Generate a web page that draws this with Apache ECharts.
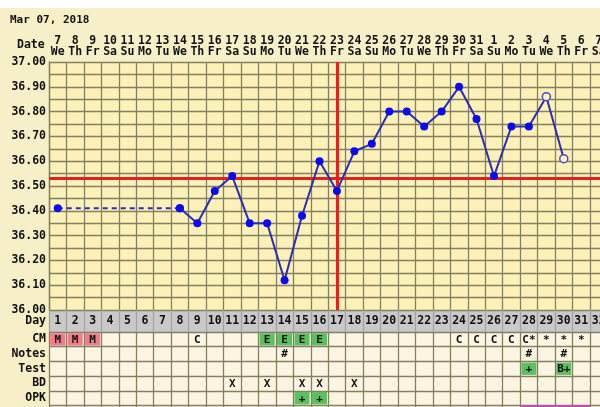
<!DOCTYPE html>
<html><head><meta charset="utf-8">
<script src="https://cdn.jsdelivr.net/npm/echarts@6/dist/echarts.min.js"></script>
<style>html,body{margin:0;padding:0;background:#f7efc8;overflow:hidden;width:600px;height:407px}#top{height:8px;background:#ffffff}#c{position:absolute;left:0;top:0;width:640px;height:440px}</style>
</head><body><div id="top"></div><div id="c"></div>
<script>
const cycleDays = Array.from({length:32}, (_, i) => String(i + 1));
const dates = ['7','8','9','10','11','12','13','14','15','16','17','18','19','20','21','22','23','24','25','26','27','28','29','30','31','1','2','3','4','5','6','7'];
const weekdays = ['We','Th','Fr','Sa','Su','Mo','Tu','We','Th','Fr','Sa','Su','Mo','Tu','We','Th','Fr','Sa','Su','Mo','Tu','We','Th','Fr','Sa','Su','Mo','Tu','We','Th','Fr','Sa'];
const temps = [36.41,null,null,null,null,null,null,36.41,36.35,36.48,36.54,36.35,36.35,36.12,36.38,36.60,36.48,36.64,36.67,36.80,36.80,36.74,36.80,36.90,36.77,36.54,36.74,36.74,36.86,36.61,null,null];
const openDays = [29, 30];
const coverline = 36.53;
const ovulationDay = '17';
const rowNames = ['CM','Notes','Test','BD','OPK',''];
const cmRow    = ['M','M','M','','','','','','C','','','','E','E','E','E','','','','','','','','C','C','C','C','C*','*','*','*',''];
const notesRow = ['','','','','','','','','','','','','','#','','','','','','','','','','','','','','#','','#','',''];
const testRow  = ['','','','','','','','','','','','','','','','','','','','','','','','','','','','+','','B+','',''];
const bdRow    = ['','','','','','','','','','','X','','X','','X','X','','X','','','','','','','','','','','','','',''];
const opkRow   = ['','','','','','','','','','','','','','','+','+','','','','','','','','','','','','','','','',''];
const extraRow = ['','','','','','','','','','','','','','','','','','','','','','','','','','','','~','~','~','~',''];

const FONT = 'DejaVu Sans Mono';
const cellColor = {M:'#ee7d8c', E:'#5cbf62', '+':'#5cbf62', 'B+':'#5cbf62', '~':'#c844c8'};
const rows = [cmRow, notesRow, testRow, bdRow, opkRow, extraRow];
const cells = [];
rows.forEach((r, ri) => r.forEach((t, xi) => {
  if (!t) return;
  let fill = null;
  if (ri === 0 && (t === 'M' || t === 'E')) fill = cellColor[t];
  if ((ri === 2 || ri === 4) && t) fill = cellColor[t];
  if (ri === 5) fill = cellColor['~'];
  cells.push({x: xi, y: ri, text: ri === 5 ? '' : t, fill: fill});
}));

const mainData = temps.map((v, i) => {
  if (i < 7 || v == null) return null;
  if (openDays.includes(i + 1)) return {value: v, symbol: 'circle', symbolSize: 8, itemStyle: {color: '#fdf3c8', borderColor: '#4a4ad0', borderWidth: 1.5}};
  return v;
});
const dashData = temps.map((v, i) => (i === 0 || i === 7) ? v : null);

const LEFT = 49, WIDTH = 558.4;
const gridLine = {show: true, lineStyle: {color: '#857f62', width: 1.3}};
const chart = echarts.init(document.getElementById('c'), null, {renderer: 'canvas'});
chart.setOption({
  animation: false,
  backgroundColor: 'transparent',
  title: {text: 'Mar 07, 2018', left: 5, top: 10, textStyle: {fontFamily: FONT, fontWeight: 'bold', fontSize: 11, color: '#111'}},
  graphic: [{type: 'text', left: 17, top: 39, style: {text: 'Date', font: 'bold 11.5px "DejaVu Sans Mono"', fill: '#111'}}],
  grid: [
    {left: LEFT, top: 62, width: WIDTH, height: 248, show: true, backgroundColor: '#fcf1b9', borderWidth: 0},
    {left: LEFT, top: 310, width: WIDTH, height: 22, show: true, backgroundColor: '#c9c9c9', borderWidth: 0},
    {left: LEFT, top: 332, width: WIDTH, height: 88.2, show: true, backgroundColor: '#fcf5e3', borderWidth: 0}
  ],
  xAxis: [
    {gridIndex: 0, type: 'category', position: 'top', data: cycleDays, boundaryGap: true,
     axisLine: {show: false}, axisTick: {show: false}, splitLine: gridLine,
     axisLabel: {interval: 0, margin: 4, fontFamily: FONT, fontWeight: 'bold', color: '#111',
       formatter: (v, i) => '{d|' + dates[i] + '}\n{w|' + weekdays[i] + '}',
       rich: {d: {fontFamily: FONT, fontWeight: 'bold', fontSize: 11.5, lineHeight: 11, color: '#111'}, w: {fontFamily: FONT, fontWeight: 'bold', fontSize: 11.5, lineHeight: 11, color: '#111'}}}},
    {gridIndex: 1, type: 'category', data: cycleDays, boundaryGap: true, axisLine: {show: false}, axisTick: {show: false}, axisLabel: {show: false},
     splitLine: {show: true, lineStyle: {color: '#a3a3a3', width: 1.3}}},
    {gridIndex: 2, type: 'category', data: cycleDays, boundaryGap: true, axisLine: {show: false}, axisTick: {show: false}, axisLabel: {show: false}, splitLine: gridLine}
  ],
  yAxis: [
    {gridIndex: 0, type: 'value', min: 36, max: 37, interval: 0.05, axisLine: {show: true, lineStyle: {color: '#857f62', width: 1.3}}, axisTick: {show: false}, splitLine: gridLine,
     axisLabel: {margin: 3, fontFamily: FONT, fontWeight: 'bold', fontSize: 11.5, color: '#111',
       formatter: v => (Math.round(v * 100) % 10 === 0) ? v.toFixed(2) : ''}},
    {gridIndex: 1, type: 'category', data: ['Day'], axisLine: {show: false}, axisTick: {show: false},
     axisLabel: {margin: 3, fontFamily: FONT, fontWeight: 'bold', fontSize: 11.5, color: '#111'}},
    {gridIndex: 2, type: 'category', data: rowNames, inverse: true, boundaryGap: true, axisLine: {show: false}, axisTick: {show: false},
     splitLine: gridLine,
     axisLabel: {interval: 0, margin: 3, fontFamily: FONT, fontWeight: 'bold', fontSize: 11.5, color: '#111'}}
  ],
  series: [
    {type: 'line', xAxisIndex: 0, yAxisIndex: 0, data: dashData, connectNulls: true, z: 2,
     symbol: 'circle', symbolSize: 8, itemStyle: {color: '#0b0bef'},
     lineStyle: {color: '#2c2cc0', width: 2, type: [5, 4]},
     markLine: {silent: true, symbol: 'none', label: {show: false}, z: 1,
       lineStyle: {color: '#e2231d', width: 3, type: 'solid'},
       data: [{yAxis: coverline}, {xAxis: ovulationDay}]}},
    {type: 'line', xAxisIndex: 0, yAxisIndex: 0, data: mainData, connectNulls: false, z: 3,
     symbol: 'circle', symbolSize: 8, itemStyle: {color: '#0b0bef'},
     lineStyle: {color: '#2c2cb4', width: 2}},
    {type: 'custom', xAxisIndex: 1, yAxisIndex: 1, data: cycleDays.map((d, i) => [i, 0]),
     renderItem: (params, api) => {
       const p = api.coord([api.value(0), api.value(1)]);
       return {type: 'text', style: {text: cycleDays[params.dataIndex], x: p[0], y: p[1], textAlign: 'center', textVerticalAlign: 'middle', font: 'bold 11.5px "DejaVu Sans Mono"', fill: '#111'}};
     }},
    {type: 'custom', xAxisIndex: 2, yAxisIndex: 2, data: cells.map(c => [c.x, c.y]),
     renderItem: (params, api) => {
       const c = cells[params.dataIndex];
       const p = api.coord([api.value(0), api.value(1)]);
       const s = api.size([1, 1]);
       const children = [];
       if (c.fill) {
         const inset = c.y === 5 ? 0 : 1.2;
         children.push({type: 'rect', shape: {x: p[0] - s[0] / 2 + inset, y: p[1] - s[1] / 2 + inset, width: s[0] - 2 * inset, height: s[1] - 2 * inset}, style: {fill: c.fill}});
       }
       if (c.text) {
         children.push({type: 'text', style: {text: c.text, x: p[0], y: p[1] + 0.5, textAlign: 'center', textVerticalAlign: 'middle', font: 'bold 11px "DejaVu Sans Mono"', fill: '#111'}});
       }
       return {type: 'group', children: children};
     }}
  ]
});
</script></body></html>
